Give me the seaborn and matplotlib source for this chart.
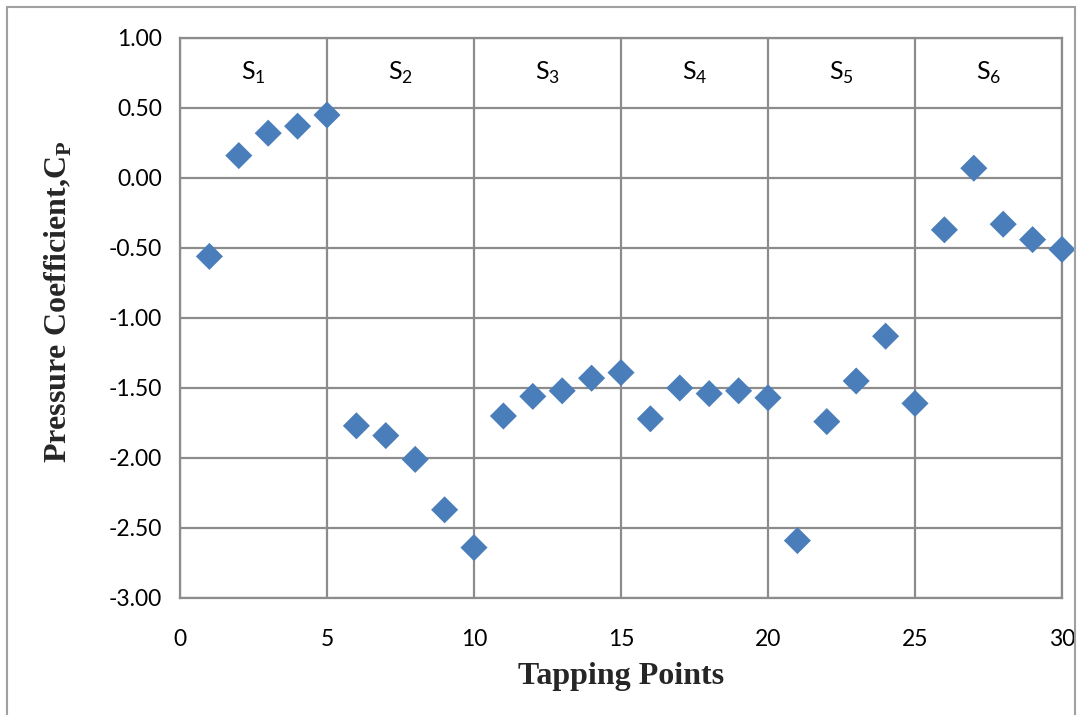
import matplotlib
matplotlib.use("Agg")
import matplotlib.pyplot as plt
import seaborn as sns
import pandas as pd
from matplotlib.patches import Rectangle

tapping_points = list(range(1, 31))
cp_values = [-0.56, 0.16, 0.32, 0.37, 0.45,
             -1.77, -1.84, -2.01, -2.37, -2.64,
             -1.70, -1.56, -1.52, -1.43, -1.39,
             -1.72, -1.50, -1.54, -1.52, -1.57,
             -2.59, -1.74, -1.45, -1.13, -1.61,
             -0.37, 0.07, -0.33, -0.44, -0.51]
section_labels = ["1", "2", "3", "4", "5", "6"]
section_centers = [2.5, 7.5, 12.5, 17.5, 22.5, 27.5]
x_ticks = [0, 5, 10, 15, 20, 25, 30]
y_ticks = [-3.0, -2.5, -2.0, -1.5, -1.0, -0.5, 0.0, 0.5, 1.0]

sns.set_theme(style="white")
plt.rcParams["font.family"] = ["Lato", "DejaVu Sans"]
plt.rcParams["mathtext.fontset"] = "custom"
plt.rcParams["mathtext.rm"] = "Liberation Serif"
plt.rcParams["mathtext.bf"] = "Liberation Serif:bold"
plt.rcParams["mathtext.sf"] = "Lato"

df = pd.DataFrame({"x": tapping_points, "cp": cp_values})

fig = plt.figure(figsize=(10.81, 7.15), dpi=100)
ax = fig.add_axes([180/1081, 1-598/715, (1062-180)/1081, (598-38)/715])

grid_c = "#8c8c8c"
ax.set_xlim(0, 30)
ax.set_ylim(-3.0, 1.0)
ax.set_xticks(x_ticks)
ax.set_yticks(y_ticks)
ax.set_yticklabels([f"{v:.2f}" for v in y_ticks])
ax.grid(True, color=grid_c, linewidth=1.6)
ax.set_axisbelow(True)
for s in ax.spines.values():
    s.set_color(grid_c)
    s.set_linewidth(1.6)
ax.tick_params(axis="both", length=0, labelsize=16.5, colors="black")
ax.tick_params(axis="x", pad=22)
ax.tick_params(axis="y", pad=13)

sns.scatterplot(data=df, x="x", y="cp", marker="D", s=190, color="#4A7EBB",
                edgecolor="none", ax=ax, zorder=3, clip_on=False)

for c, lab in zip(section_centers, section_labels):
    ax.text(c, 0.75, "S$_\\mathsf{" + lab + "}$", ha="center", va="center",
            fontsize=18, color="black")

ax.set_xlabel("Tapping Points", fontsize=23, fontweight="bold",
              family="Liberation Serif", labelpad=9)
ax.set_ylabel("Pressure Coefficient,C$_\\mathbf{P}$", fontsize=23, fontweight="bold",
              family="Liberation Serif")
ax.yaxis.set_label_coords(-0.120, 0.529)

fig.patches.append(Rectangle((7/1081, -0.05), (1075-7)/1081, 1-7/715+0.05,
                             transform=fig.transFigure, fill=False,
                             edgecolor="#a0a0a0", linewidth=1.5))

fig.savefig("out.png", dpi=100)
